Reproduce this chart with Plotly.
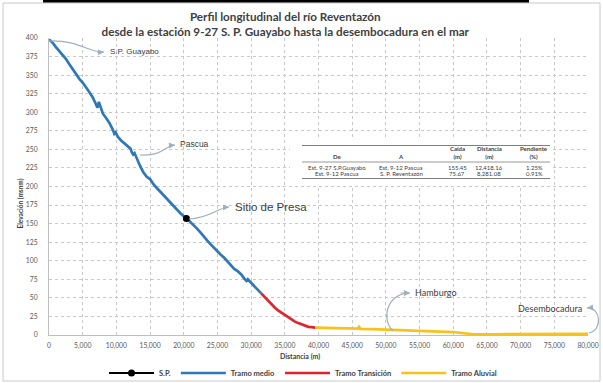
import plotly.graph_objects as go

# ---------------- data ----------------
medio_x = [0, 500, 1000, 1500, 2000, 2500, 3000, 3500, 4000, 4500, 5000, 5500, 6000, 6500,
           7000, 7200, 7400, 7600, 8000, 8500, 9000, 9500, 9700, 9900, 10200, 10700, 11200,
           11700, 12100, 12300, 12500, 12700, 13000, 13500, 14000, 14500, 15000, 15500, 16000,
           16500, 17000, 17500, 18000, 18500, 19000, 19500, 20000, 20500, 21000, 21500, 22000,
           22500, 23000, 23500, 24000, 24500, 25000, 25500, 26000, 26500, 27000, 27500, 28000,
           28500, 29000, 29300, 29500, 30000, 30500, 31000, 31500]
medio_y = [398, 394, 388, 383, 378, 372, 365, 358, 351, 345, 340, 334, 327, 320,
           310, 306, 314, 308, 298, 292, 285, 276, 271, 273, 267, 262, 258,
           254, 251, 246, 243, 245, 238, 228, 219, 213, 210, 203, 198,
           193, 188, 183, 178, 174, 169, 164, 160, 157, 152, 148, 143,
           138, 132, 127, 122, 117, 113, 108, 104, 99, 94, 89, 86,
           82, 76, 73, 75, 70, 65, 61, 56]

trans_x = [31500, 32000, 32500, 33000, 33500, 34000, 34500, 35000, 35500, 36000, 36500,
           37000, 37500, 38000, 38500, 39000, 39500]
trans_y = [56, 51, 47, 42, 37, 33, 30, 26, 23, 20, 18, 16, 14, 12, 11, 10.5, 10]

aluv_x = [39500, 41000, 43000, 45000, 45800, 46000, 46200, 48000, 50000, 52000, 55000,
          58000, 60000, 60500, 61500, 63000, 66000, 70000, 74000, 77000, 80000]
aluv_y = [10, 9.5, 9, 8.5, 8.5, 11, 8.3, 7.8, 7, 6, 5, 4.5, 4, 3.5, 1.5, 1, 1, 1, 1.2, 1.5, 1.5]

sp_x = [20400]
sp_y = [157]

table_header = ["De", "A", "Caída<br>(m)", "Distancia<br>(m)", "Pendiente<br>(%)"]
table_rows = [
    ["Est. 9-27 S.P.Guayabo", "Est. 9-12 Pascua", "155.45", "12,418.16", "1.25%"],
    ["Est. 9-12 Pascua", "S. P. Reventazón", "75.67", "8,281.08", "0.91%"],
]

x_ticks = list(range(0, 80001, 5000))
y_ticks = list(range(0, 401, 25))

# ---------------- figure ----------------
W, H = 603, 383
L, R, T, B = 49, 15, 38, 48
PW, PH = W - L - R, H - T - B


def px(xp):  # pixel -> paper x
    return (xp - L) / PW


def py(yp):  # pixel -> paper y
    return (H - B - yp) / PH


BLUE = "#2f78b5"
RED = "#e0242b"
YEL = "#f7c21c"
FONT = "Lato"

fig = go.Figure()
fig.add_trace(go.Scatter(x=medio_x, y=medio_y, mode="lines", name="<b>Tramo medio</b>", legendrank=2,
                         line=dict(color=BLUE, width=2.7)))
fig.add_trace(go.Scatter(x=trans_x, y=trans_y, mode="lines", name="<b>Tramo Transición</b>", legendrank=3,
                         line=dict(color=RED, width=2.7)))
fig.add_trace(go.Scatter(x=aluv_x, y=aluv_y, mode="lines", name="<b>Tramo Aluvial</b>", legendrank=4,
                         line=dict(color=YEL, width=2.7)))
fig.add_trace(go.Scatter(x=sp_x, y=sp_y, mode="lines+markers", name="<b>S.P.</b>", legendrank=1,
                         line=dict(color="black", width=2),
                         marker=dict(color="black", size=7)))

shapes = []
annotations = []

# frame of the picture
shapes.append(dict(type="rect", xref="paper", yref="paper", x0=px(3), x1=px(600), y0=py(381), y1=py(3),
                   line=dict(color="#c8c8c8", width=1), layer="below"))
shapes.append(dict(type="line", xref="paper", yref="paper", x0=px(43), x1=px(529), y0=py(1), y1=py(1),
                   line=dict(color="black", width=3)))

# table background + rules
shapes.append(dict(type="rect", xref="paper", yref="paper", x0=px(290), x1=px(552), y0=py(185), y1=py(137),
                   fillcolor="white", line=dict(width=0), layer="above"))
for yl, w in [(145.5, 1.2), (162, 0.8), (178.5, 1.2)]:
    shapes.append(dict(type="line", xref="paper", yref="paper", x0=px(302), x1=px(550), y0=py(yl), y1=py(yl),
                       line=dict(color="#7f7f7f", width=w), layer="above"))

col_px = [337, 401, 457, 489, 534]
for cx, h in zip(col_px, table_header):
    annotations.append(dict(xref="paper", yref="paper", x=px(cx), y=py(161.5), text="<b>%s</b>" % h,
                            showarrow=False, xanchor="center", yanchor="bottom",
                            font=dict(family=FONT, size=6, color="#404040")))
for ry, row in zip([167.5, 173.8], table_rows):
    for cx, v in zip(col_px, row):
        annotations.append(dict(xref="paper", yref="paper", x=px(cx), y=py(ry), text=v,
                                showarrow=False, xanchor="center", yanchor="middle",
                                font=dict(family=FONT, size=6, color="#404040")))

# curved callouts (pixel-space definitions converted to paper coords)
ARROW_C = "#9fb0bd"
callouts = [
    ((49, 41), (80, 40), (88, 53), (104, 52), "S.P. Guayabo", (108, 51), 8),
    ((140, 155), (165, 156), (163, 146), (175, 145), "Pascua", (178, 144), 8.5),
    ((189, 219), (210, 218), (217, 208), (229, 207), "Sitio de Presa", (233, 207), 11.5),
    ((393, 331), (380, 318), (388, 293), (410, 293), "Hamburgo", (413, 292), 9),
    ((589, 333), (603, 330), (601, 307), (587, 308), "Desembocadura", (584, 308), 9),
]
for s, c1, c2, e, lab, lp, fs in callouts:
    path = "M %f,%f C %f,%f %f,%f %f,%f" % (px(s[0]), py(s[1]), px(c1[0]), py(c1[1]),
                                           px(c2[0]), py(c2[1]), px(e[0]), py(e[1]))
    shapes.append(dict(type="path", xref="paper", yref="paper", path=path,
                       line=dict(color=ARROW_C, width=1.2)))
    annotations.append(dict(xref="paper", yref="paper", x=px(e[0]), y=py(e[1]),
                            ax=(c2[0] - e[0]) * 0.5, ay=(c2[1] - e[1]) * 0.5, text="",
                            showarrow=True, arrowhead=2, arrowsize=1, arrowwidth=1.2,
                            arrowcolor=ARROW_C))
    anchor = "right" if lab == "Desembocadura" else "left"
    fam = "Liberation Sans" if lab in ("Sitio de Presa", "Pascua", "S.P. Guayabo") else FONT
    annotations.append(dict(xref="paper", yref="paper", x=px(lp[0]), y=py(lp[1]), text=lab,
                            showarrow=False, xanchor=anchor, yanchor="middle",
                            font=dict(family=fam, size=fs, color="#404040")))

annotations.append(dict(xref="paper", yref="paper", x=px(19.5), y=py(203), text="<b>Elevación (msnm)</b>",
                        textangle=-90, showarrow=False, xanchor="center", yanchor="middle",
                        font=dict(family=FONT, size=6.5, color="#404040")))
annotations.append(dict(xref="paper", yref="paper", x=px(300), y=py(357), text="<b>Distancia (m)</b>",
                        showarrow=False, xanchor="center", yanchor="middle",
                        font=dict(family=FONT, size=7, color="#404040")))

fig.update_layout(
    width=W, height=H,
    margin=dict(l=L, r=R, t=T, b=B, autoexpand=False),
    paper_bgcolor="white", plot_bgcolor="white",
    title=dict(text="<b>Perfil longitudinal del río Reventazón</b><br><b>desde la estación 9-27 S. P. Guayabo hasta la desembocadura en el mar</b>",
               x=px(304), xanchor="center", y=1 - 21 / H, yanchor="middle",
               font=dict(family=FONT, size=11.7, color="#404040")),
    showlegend=True,
    legend=dict(orientation="h", x=px(303), xanchor="center", y=py(373), yanchor="middle",
                font=dict(family=FONT, size=7.5, color="#404040"), itemwidth=45,
                bgcolor="rgba(0,0,0,0)", traceorder="normal"),
    shapes=shapes, annotations=annotations,
)
fig.update_xaxes(range=[0, 80000], tickvals=x_ticks, ticktext=[f"{v:,}" for v in x_ticks],
                 showgrid=True, gridcolor="#c9c9c9", griddash="dot", gridwidth=1,
                 showline=True, linecolor="#bfbfbf", linewidth=1, zeroline=False,
                 tickfont=dict(family=FONT, size=6.8, color="#595959"), ticks="", ticklen=0,
                 ticklabelstandoff=4)
fig.update_yaxes(range=[0, 400], tickvals=y_ticks,
                 showgrid=True, gridcolor="#c9c9c9", griddash="dot", gridwidth=1,
                 showline=True, linecolor="#bfbfbf", linewidth=1, zeroline=False,
                 tickfont=dict(family=FONT, size=6.8, color="#595959"), ticks="", ticklen=0,
                 ticklabelstandoff=9)

fig.write_html("out.html", config={"displayModeBar": False})

# remove the default page margin so the figure sits at the window's top-left corner
with open("out.html", "r", encoding="utf-8") as f:
    html = f.read()
html = html.replace("<head>", "<head><style>html,body{margin:0;padding:0;overflow:hidden;}</style>", 1)
with open("out.html", "w", encoding="utf-8") as f:
    f.write(html)
